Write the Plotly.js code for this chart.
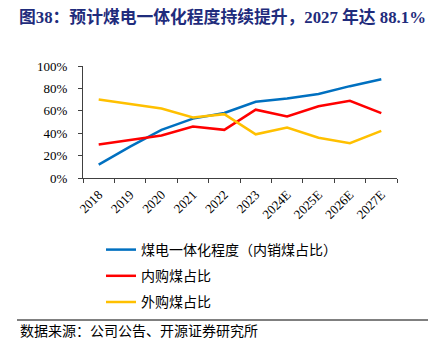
<!DOCTYPE html>
<html><head><meta charset="utf-8">
<script src="https://cdn.plot.ly/plotly-3.0.1.min.js"></script>
<style>html,body{margin:0;padding:0;background:#fff}#chart{width:439px;height:353px}</style>
</head><body><div id="chart"></div>
<script>
var categories = ['2018','2019','2020','2021','2022','2023','2024E','2025E','2026E','2027E'];
var integrationRate = [0.12,0.28,0.43,0.53,0.58,0.68,0.71,0.75,0.82,0.881];
var internalShare = [0.30,0.34,0.38,0.46,0.43,0.61,0.55,0.64,0.69,0.58];
var externalShare = [0.70,0.66,0.62,0.54,0.57,0.39,0.45,0.36,0.31,0.42];
var seriesNames = ['煤电一体化程度（内销煤占比）','内购煤占比','外购煤占比'];
var titleText = '<b>图38：预计煤电一体化程度持续提升，2027 年达 88.1%</b>';
var sourceText = '数据来源：公司公告、开源证券研究所';

var colors = ['#0070C0','#FF0000','#FFC000'];
var series = [integrationRate, internalShare, externalShare];
var traces = series.map(function(v,i){
  return {x: categories, y: v, type:'scatter', mode:'lines', name: seriesNames[i],
    legendgroup:'g'+i, line:{color:colors[i], width:2.5}, hoverinfo:'skip'};
});
var L=83, R=397, T=66, B=178;
function px(x){return (x-L)/(R-L);}
function py(y){return (B-y)/(B-T);}
var layout = {
  width:439, height:353,
  margin:{l:L, r:439-R, t:T, b:353-B, pad:0},
  paper_bgcolor:'#fff', plot_bgcolor:'#fff',
  title:{text:titleText, x:19/439, xanchor:'left', xref:'container', y:1-17/353, yanchor:'middle', yref:'container',
    font:{family:'Liberation Serif, Noto Sans CJK SC', size:16.8, color:'#1F2C7C'}},
  font:{family:'Liberation Serif, Noto Sans CJK SC', color:'#000'},
  xaxis:{type:'category', range:[-0.5,9.5], showgrid:false, zeroline:false, showline:true, linecolor:'#404040', linewidth:1,
    ticks:'outside', tickson:'boundaries', ticklen:4, tickcolor:'#404040', tickangle:-45, ticklabelstandoff:3,
    tickfont:{family:'Liberation Serif', size:13, color:'#000'}, fixedrange:true},
  yaxis:{range:[0,1], dtick:0.2, tickformat:'.0%', showgrid:false, zeroline:false, showline:true, linecolor:'#404040', linewidth:1,
    ticks:'outside', ticklen:4, tickcolor:'#404040', ticklabelstandoff:8,
    tickfont:{family:'Liberation Serif', size:13, color:'#000'}, fixedrange:true},
  showlegend:true,
  legend:{x:px(101), xanchor:'left', y:py(234), yanchor:'top', orientation:'v', tracegroupgap:5,
    font:{family:'Noto Sans CJK SC', size:14, color:'#000'}, bgcolor:'rgba(0,0,0,0)'},
  shapes:[{type:'line', xref:'paper', yref:'paper', x0:px(17), x1:px(428), y0:py(320), y1:py(320), line:{color:'#000', width:1}}],
  annotations:[{text:sourceText, xref:'paper', yref:'paper', x:px(18), y:py(330), xanchor:'left', yanchor:'middle', showarrow:false,
    font:{family:'Noto Sans CJK SC', size:14, color:'#000'}}]
};
Plotly.newPlot('chart', traces, layout, {displayModeBar:false, staticPlot:true});
</script></body></html>
